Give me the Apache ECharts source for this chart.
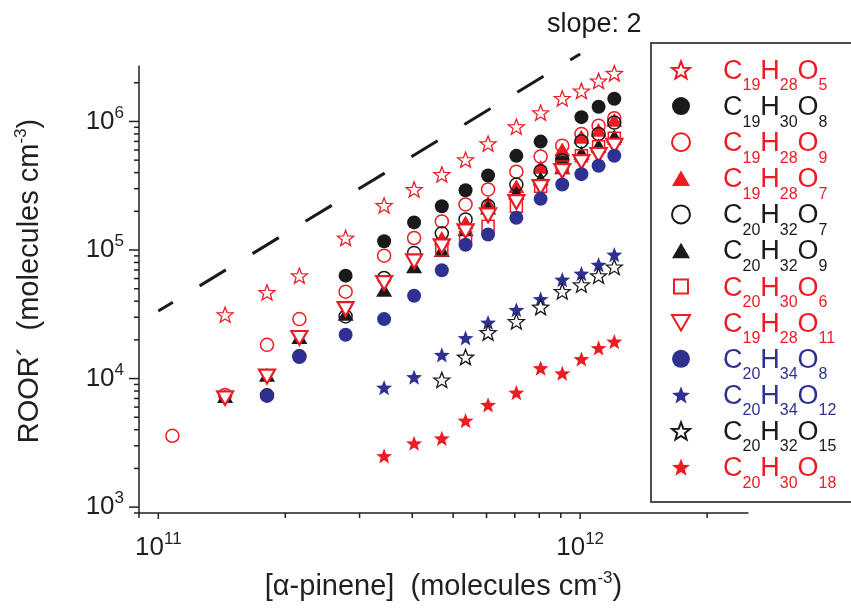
<!DOCTYPE html>
<html>
<head>
<meta charset="utf-8">
<script src="https://cdn.jsdelivr.net/npm/echarts@6/dist/echarts.min.js"></script>
<style>
  html, body { margin: 0; padding: 0; background: #ffffff; }
  #chart { width: 851px; height: 610px; }
</style>
</head>
<body>
<div id="chart"></div>
<script>
// [α-pinene] of every measurement step (molecules cm-3)
const alphaPinene = [1.08e11, 1.44e11, 1.81e11, 2.16e11, 2.78e11, 3.43e11, 4.04e11, 4.70e11,
                     5.35e11, 6.05e11, 7.06e11, 8.06e11, 9.07e11, 1.007e12, 1.106e12, 1.205e12];

// ROOR´ concentrations (molecules cm-3), one value per α-pinene step, null = not detected
const C19H28O5  = [null, 3.14e4, 4.68e4, 6.31e4, 1.24e5, 2.22e5, 2.96e5, 3.87e5, 5.04e5, 6.72e5, 9.11e5, 1.17e6, 1.51e6, 1.73e6, 2.07e6, 2.37e6];
const C19H30O8  = [null, null, null, null, 6.32e4, 1.17e5, 1.64e5, 2.19e5, 2.92e5, 3.80e5, 5.40e5, 6.97e5, 5.09e5, 1.08e6, 1.30e6, 1.50e6];
const C19H28O9  = [3.59e3, 7.46e3, 1.83e4, 2.90e4, 4.74e4, 9.04e4, 1.24e5, 1.67e5, 2.26e5, 2.96e5, 4.07e5, 5.33e5, 6.48e5, 8.0e5, 9.28e5, 1.06e6];
const C19H28O7  = [null, null, null, null, null, null, null, 1.24e5, 1.64e5, 2.33e5, 3.14e5, 4.43e5, 6.06e5, 7.6e5, 8.6e5, 1.03e6];
const C20H32O7  = [null, null, 7.4e3, 1.49e4, 3.04e4, 6.06e4, 9.49e4, 1.35e5, 1.73e5, 2.2e5, 3.23e5, 4.1e5, 5.0e5, 7.0e5, 8.0e5, 9.8e5];
const C20H32O9  = [null, 7.3e3, 1.07e4, 2.1e4, 3.19e4, 4.9e4, 7.46e4, 1.0e5, 1.45e5, 2.14e5, 2.79e5, 3.6e5, 4.4e5, 5.71e5, 6.5e5, 7.69e5];
const C20H30O6  = [null, null, null, null, null, null, null, 1.0e5, 1.25e5, 1.53e5, 2.19e5, 3.14e5, 4.43e5, 5.4e5, 6.35e5, 7.4e5];
const C19H28O11 = [null, 7.03e3, 1.036e4, 2.07e4, 3.47e4, 5.54e4, 8.17e4, 1.069e5, 1.40e5, 1.86e5, 2.36e5, 3.09e5, 4.11e5, 4.84e5, 5.49e5, 6.48e5];
const C20H34O8  = [null, null, 7.33e3, 1.47e4, 2.19e4, 2.9e4, 4.41e4, 6.95e4, 1.10e5, 1.32e5, 1.78e5, 2.50e5, 3.23e5, 3.89e5, 4.52e5, 5.41e5];
const C20H34O12 = [null, null, null, null, null, 8.51e3, 1.026e4, 1.53e4, 2.07e4, 2.73e4, 3.43e4, 4.16e4, 5.88e4, 6.55e4, 7.69e4, 9.21e4];
const C20H32O15 = [null, null, null, null, null, null, null, 9.77e3, 1.47e4, 2.28e4, 2.78e4, 3.60e4, 4.77e4, 5.37e4, 6.32e4, 7.38e4];
const C20H30O18 = [null, null, null, null, null, 2.50e3, 3.14e3, 3.43e3, 4.71e3, 6.24e3, 7.78e3, 1.205e4, 1.10e4, 1.42e4, 1.73e4, 1.94e4];

// slope-2 guide line: [α-pinene], ROOR´
const slopeGuide = [[1e11, 3.35e4], [1e12, 3.35e6]];

// axis ranges and tick values
const xRange = [9e10, 2.5e12];
const yRange = [900, 2.7e6];
const xTicks = [9e10, 1e11, 2e11, 3e11, 4e11, 5e11, 6e11, 7e11, 8e11, 9e11, 1e12, 2e12];
const yTicks = [900, 1e3, 2e3, 3e3, 4e3, 5e3, 6e3, 7e3, 8e3, 9e3,
                1e4, 2e4, 3e4, 4e4, 5e4, 6e4, 7e4, 8e4, 9e4,
                1e5, 2e5, 3e5, 4e5, 5e5, 6e5, 7e5, 8e5, 9e5,
                1e6, 2e6];

const FONT = '"Liberation Sans", Arial, Helvetica, sans-serif';
const RED = '#ED1C24', BLACK = '#1A1A1A', NAVY = '#2E3192', AXIS = '#231F20';
const NONE = 'rgba(255,255,255,0)';

const STAR = 'path://M50,0L62.34,33.01L97.55,34.55L69.97,56.49L79.39,90.45L50,71L20.61,90.45L30.03,56.49L2.45,34.55L37.66,33.01Z';
const TRI_UP = 'path://M0,17.32L10,0L20,17.32Z';
const TRI_DOWN = 'path://M0,0L20,0L10,17.32Z';
const SQUARE_ICON = 'path://M0,0M18,18M2,2L16,2L16,16L2,16Z';

// marker description of each species: symbol, size, fill, outline, outline width, text colour key
const species = [
  { name: 'C19H28O5',  values: C19H28O5,  symbol: STAR,     size: 16, fill: '#fff', stroke: RED,   lw: 1.3, key: 'r' },
  { name: 'C19H30O8',  values: C19H30O8,  symbol: 'circle', size: 14, fill: BLACK,  stroke: BLACK, lw: 0,   key: 'k' },
  { name: 'C19H28O9',  values: C19H28O9,  symbol: 'circle', size: 13, fill: NONE,   stroke: RED,   lw: 1.5, key: 'r' },
  { name: 'C19H28O7',  values: C19H28O7,  symbol: TRI_UP,   size: 16, fill: RED,    stroke: RED,   lw: 0,   key: 'r' },
  { name: 'C20H32O7',  values: C20H32O7,  symbol: 'circle', size: 13, fill: NONE,   stroke: BLACK, lw: 1.5, key: 'k' },
  { name: 'C20H32O9',  values: C20H32O9,  symbol: TRI_UP,   size: 16, fill: BLACK,  stroke: BLACK, lw: 0,   key: 'k' },
  { name: 'C20H30O6',  values: C20H30O6,  symbol: 'rect',   size: 12, fill: NONE,   stroke: RED,   lw: 1.5, key: 'r', icon: SQUARE_ICON },
  { name: 'C19H28O11', values: C19H28O11, symbol: TRI_DOWN, size: 16, fill: '#fff', stroke: RED,   lw: 2.2, key: 'r' },
  { name: 'C20H34O8',  values: C20H34O8,  symbol: 'circle', size: 14, fill: NAVY,   stroke: NAVY,  lw: 0,   key: 'b' },
  { name: 'C20H34O12', values: C20H34O12, symbol: STAR,     size: 16, fill: NAVY,   stroke: NAVY,  lw: 0,   key: 'b' },
  { name: 'C20H32O15', values: C20H32O15, symbol: STAR,     size: 16, fill: '#fff', stroke: BLACK, lw: 1.3, key: 'k' },
  { name: 'C20H30O18', values: C20H30O18, symbol: STAR,     size: 16, fill: RED,    stroke: RED,   lw: 0,   key: 'r' }
];

const textColour = { r: RED, k: BLACK, b: NAVY };

function isDecade(v) {
  const e = Math.log10(v);
  return Math.abs(e - Math.round(e)) < 1e-9;
}

function powerLabel(v) {
  if (!isDecade(v)) return '';
  return '{b|10}{s|' + Math.round(Math.log10(v)) + '}';
}

// legend rich styles: large element letters, lowered atom counts
const legendRich = {};
Object.keys(textColour).forEach(k => {
  legendRich['M' + k] = { color: textColour[k], fontFamily: FONT, fontSize: 27, lineHeight: 30, verticalAlign: 'top', padding: [3, 0, 0, 0] };
  legendRich['L' + k] = { color: textColour[k], fontFamily: FONT, fontSize: 27, lineHeight: 30, verticalAlign: 'top', padding: [3, 0, 0, 28] };
  legendRich['S' + k] = { color: textColour[k], fontFamily: FONT, fontSize: 16, lineHeight: 16, verticalAlign: 'top', padding: [23, 0, 0, 0] };
});

function formulaLabel(name) {
  const k = species.find(s => s.name === name).key;
  let first = true;
  return name.replace(/([A-Z][a-z]?)(\d+)/g, (m, el, n) => {
    const tag = first ? 'L' : 'M';
    first = false;
    return '{' + tag + k + '|' + el + '}{S' + k + '|' + n + '}';
  });
}

const tickRich = {
  b: { fontFamily: FONT, fontSize: 26, lineHeight: 34, color: AXIS },
  s: { fontFamily: FONT, fontSize: 17, lineHeight: 14, verticalAlign: 'top', color: AXIS }
};
const nameRich = {
  m: { fontFamily: FONT, fontSize: 29, lineHeight: 34, color: AXIS },
  s: { fontFamily: FONT, fontSize: 17, lineHeight: 14, verticalAlign: 'top', color: AXIS }
};

const scatterSeries = species.map(s => ({
  type: 'scatter',
  name: s.name,
  data: alphaPinene.map((x, i) => (s.values[i] == null ? null : [x, s.values[i]])).filter(p => p),
  symbol: s.symbol,
  symbolSize: s.size,
  symbolKeepAspect: true,
  itemStyle: { color: s.fill, borderColor: s.stroke, borderWidth: s.lw, opacity: 1 },
  emphasis: { disabled: true },
  z: 3
}));

// outward tick marks along both axes (decades longer than the in-between ticks)
const xTickSeries = {
  type: 'custom',
  name: 'x ticks',
  silent: true,
  clip: false,
  z: 4,
  data: xTicks.map(v => [v, yRange[0]]),
  renderItem: (params, api) => {
    const v = api.value(0);
    const p = api.coord([v, api.value(1)]);
    const len = isDecade(v) ? 6 : 5;
    return { type: 'line', shape: { x1: p[0], y1: p[1], x2: p[0], y2: p[1] + len },
             style: { stroke: AXIS, lineWidth: 1.5 } };
  }
};
const yTickSeries = {
  type: 'custom',
  name: 'y ticks',
  silent: true,
  clip: false,
  z: 4,
  data: yTicks.map(v => [xRange[0], v]),
  renderItem: (params, api) => {
    const v = api.value(1);
    const p = api.coord([api.value(0), v]);
    const len = isDecade(v) ? 10 : 5;
    return { type: 'line', shape: { x1: p[0], y1: p[1], x2: p[0] - len, y2: p[1] },
             style: { stroke: AXIS, lineWidth: 1.5 } };
  }
};

const guideSeries = {
  type: 'line',
  name: 'slope 2',
  data: slopeGuide,
  symbol: 'none',
  silent: true,
  clip: false,
  z: 2,
  lineStyle: { color: BLACK, width: 3, type: [30.7, 31.3], dashOffset: 13.6, cap: 'butt' }
};

const chart = echarts.init(document.getElementById('chart'), null, { renderer: 'canvas' });
chart.setOption({
  animation: false,
  backgroundColor: '#ffffff',
  textStyle: { fontFamily: FONT },
  grid: { left: 139, right: 103, top: 66, bottom: 97, containLabel: false, outerBoundsMode: 'none' },
  xAxis: {
    type: 'log',
    logBase: 10,
    min: xRange[0],
    max: xRange[1],
    axisLine: { show: true, onZero: false, lineStyle: { color: AXIS, width: 1.5 } },
    axisTick: { show: false },
    minorTick: { show: false },
    splitLine: { show: false },
    axisLabel: { margin: 18, formatter: powerLabel, rich: tickRich, showMinLabel: true, showMaxLabel: true, hideOverlap: false },
    name: '{m|[α-pinene]  (molecules cm}{s|-3}{m|)}',
    nameLocation: 'middle',
    nameGap: 56.5,
    nameTextStyle: { rich: nameRich }
  },
  yAxis: {
    type: 'log',
    logBase: 10,
    min: yRange[0],
    max: yRange[1],
    axisLine: { show: true, onZero: false, lineStyle: { color: AXIS, width: 1.5 } },
    axisTick: { show: false },
    minorTick: { show: false },
    splitLine: { show: false },
    axisLabel: { margin: 15, formatter: powerLabel, rich: tickRich, hideOverlap: false },
    name: '{m|ROOR´  (molecules cm}{s|-3}{m|)}',
    nameLocation: 'middle',
    nameGap: 92,
    nameTextStyle: { rich: nameRich, padding: [0, 0, 0, 17] }
  },
  legend: {
    orient: 'vertical',
    left: 671,
    top: 55,
    padding: 0,
    itemGap: -2.9,
    itemWidth: 18,
    itemHeight: 18,
    symbolKeepAspect: true,
    selectedMode: false,
    data: species.map(s => (s.icon ? { name: s.name, icon: s.icon } : { name: s.name })),
    formatter: formulaLabel,
    textStyle: { rich: legendRich }
  },
  graphic: [
    { type: 'rect', shape: { x: 651, y: 43, width: 260, height: 459 },
      style: { fill: 'none', stroke: '#4D4D4D', lineWidth: 2 }, silent: true, z: 0 },
    { type: 'text', x: 547, y: 24.5, silent: true,
      style: { text: 'slope: 2', fontFamily: FONT, fontSize: 27, fill: BLACK, verticalAlign: 'middle' } }
  ],
  series: [guideSeries].concat(scatterSeries, [xTickSeries, yTickSeries])
});
</script>
</body>
</html>
